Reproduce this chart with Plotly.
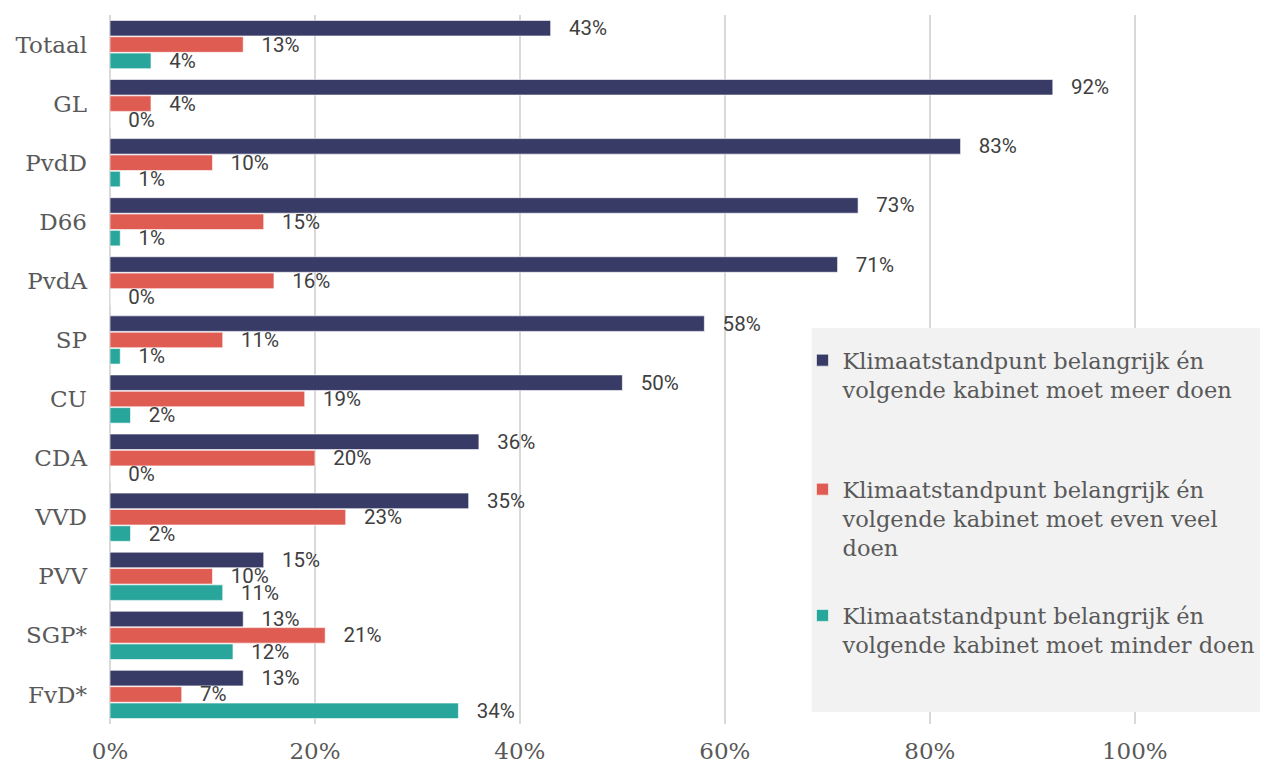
import plotly.graph_objects as go

categories = ["Totaal", "GL", "PvdD", "D66", "PvdA", "SP", "CU", "CDA", "VVD", "PVV", "SGP*", "FvD*"]
meer = [43, 92, 83, 73, 71, 58, 50, 36, 35, 15, 13, 13]
even_veel = [13, 4, 10, 15, 16, 11, 19, 20, 23, 10, 21, 7]
minder = [4, 0, 1, 1, 0, 1, 2, 0, 2, 11, 12, 34]

series_names = [
    "Klimaatstandpunt belangrijk én<br>volgende kabinet moet meer doen",
    "Klimaatstandpunt belangrijk én<br>volgende kabinet moet even veel<br>doen",
    "Klimaatstandpunt belangrijk én<br>volgende kabinet moet minder doen",
]
series_values = [meer, even_veel, minder]
colors = ["#393b67", "#df5c52", "#29a69c"]
legend_ids = ["legend", "legend2", "legend3"]

x_ticks = [0, 20, 40, 60, 80, 100]

SERIF = "DejaVu Serif"
GAP = "\u00a0\u00a0\u00a0"

fig = go.Figure()
for name, vals, col, lg in zip(series_names, series_values, colors, legend_ids):
    fig.add_trace(go.Bar(
        y=categories, x=vals, orientation="h", name=name,
        marker=dict(color=col, line=dict(color="rgba(255,255,255,0.6)", width=1)),
        text=[f"{GAP}{v}%" for v in vals], textposition="outside",
        textfont=dict(family="Roboto", size=20.5, color="#404040"),
        constraintext="none", cliponaxis=False, legend=lg,
        hoverinfo="skip",
    ))

fig.update_layout(
    width=1260, height=757,
    margin=dict(l=102, r=0, t=7, b=41),
    paper_bgcolor="white", plot_bgcolor="white",
    barmode="group", bargap=0.17, bargroupgap=0.05,
    font=dict(family=SERIF, color="#595959"),
    showlegend=True,
    xaxis=dict(range=[0, 113], tickvals=x_ticks, ticktext=[f"{t}%" for t in x_ticks],
               showgrid=True, gridcolor="#d9d9d9", gridwidth=2,
               zeroline=True, zerolinecolor="#d9d9d9", zerolinewidth=2,
               tickfont=dict(family=SERIF, size=23, color="#595959"), ticks="",
               ticklabelstandoff=11, showline=False),
    yaxis=dict(categoryorder="array", categoryarray=categories, autorange="reversed",
               tickfont=dict(family=SERIF, size=23, color="#595959"),
               ticks="", ticklabelstandoff=22, showgrid=False, zeroline=False),
    shapes=[dict(type="rect", xref="paper", yref="paper", x0=0.606, x1=1.0,
                 y0=0.017, y1=0.5585, fillcolor="#f2f2f2", line=dict(width=0), layer="above")],
)

legend_y = [0.543, 0.361, 0.183]
for lg, yy in zip(legend_ids, legend_y):
    fig.update_layout({lg: dict(x=0.598, y=yy, xanchor="left", yanchor="top",
                                bgcolor="rgba(0,0,0,0)", valign="top",
                                font=dict(family=SERIF, size=22.5, color="#595959"))})

fig.write_html("out.html")
